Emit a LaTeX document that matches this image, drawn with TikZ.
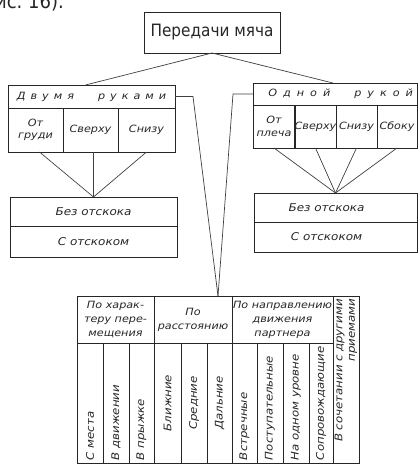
\documentclass[tikz,border=0pt]{standalone}
\usepackage{fontspec}
\setmainfont{DejaVu Sans}
\newfontfamily\gost{DejaVu Sans}[FakeStretch=1.12]
\newfontfamily\cond{DejaVu Sans Condensed}
\makeatletter
\newcommand\spreadout[2]{\@tfor\spr@c:=#2\do{\spr@c\kern#1}\unkern}
\makeatother
\begin{document}
\begin{tikzpicture}[x=1pt,y=-1pt,
  every node/.style={text=black!85},
  box/.style={draw=black!85, line width=1pt, inner sep=0pt, outer sep=0pt, align=center,
    font=\gost\itshape\fontsize{10}{12.5}\selectfont},
  bounce/.style={box, font=\gost\itshape\fontsize{10.7}{13}\selectfont},
  hdr/.style={box, font=\gost\itshape\fontsize{10}{14}\selectfont},
  vcol/.style={box, rotate=90, minimum width=120pt, text width=114pt, inner xsep=3pt, align=left,
    font=\gost\itshape\fontsize{10.5}{12.5}\selectfont},
  link/.style={draw=black!75, line width=0.7pt}]
\useasboundingbox (0,0) rectangle (419,466);

% cut-off text fragment at the top edge (as in the reference)
\node[anchor=base east, inner sep=0pt, font=\cond\fontsize{20}{22}\selectfont] (frag) at (64,8) {рис.~16).};

% title
\node[box, font=\cond\fontsize{17}{20}\selectfont, minimum width=136pt, minimum height=41pt] (title) at (212,32.5) {Передачи мяча};

% two hands
\node[box, minimum width=167pt, minimum height=23pt] (two) at (91.5,96.5) {\spreadout{5pt}{Двумя{\hspace{14pt}}руками}};
\node[box, minimum width=55pt, minimum height=44pt] (t1) at (35.5,130) {От\\груди};
\node[box, minimum width=55pt, minimum height=44pt] (t2) at (90.5,130) {Сверху};
\node[box, minimum width=57pt, minimum height=44pt] (t3) at (146.5,130) {Снизу};

% one hand
\node[box, text width=156pt, inner xsep=4pt, align=right, minimum height=22pt] (one) at (335,94) {\spreadout{6pt}{Одной{\hspace{12pt}}рукой}};
\node[box, minimum width=42pt, minimum height=43pt] (o1) at (274,126.5) {От\\плеча};
\node[box, minimum width=41pt, minimum height=43pt] (o2) at (315.5,126.5) {Сверху};
\node[box, minimum width=41pt, minimum height=43pt] (o3) at (356.5,126.5) {Снизу};
\node[box, minimum width=40pt, minimum height=43pt] (o4) at (397,126.5) {Сбоку};

% bounce boxes
\node[bounce, minimum width=167pt, minimum height=29pt] (bL1) at (93.5,211.5) {Без отскока};
\node[bounce, minimum width=167pt, minimum height=31pt] (bL2) at (93.5,241.5) {С отскоком};
\node[bounce, minimum width=163pt, minimum height=29pt] (bR1) at (335.5,207.5) {Без отскока\hspace{18pt}};
\node[bounce, minimum width=163pt, minimum height=30pt] (bR2) at (335.5,237) {С отскоком\hspace{18pt}};

% table header
\node[hdr, minimum width=77pt, minimum height=47pt] (g1) at (115.5,319.5) {По харак-\\теру пере-\\мещения};
\node[hdr, minimum width=78pt, minimum height=47pt] (g2) at (193,319.5) {По\\расстоянию};
\node[hdr, minimum width=101pt, minimum height=47pt] (g3) at (282.5,319.5) {По направлению\\движения\\партнера};
\node[vcol, minimum width=167pt, minimum height=26pt, text width=161pt, align=right] (g4) at (346,379.5) {В сочетании с другими\\приемами};

% table columns
\node[vcol, minimum height=26pt] (k1) at (90,403) {С места};
\node[vcol, minimum height=26pt] (k2) at (116,403) {В движении};
\node[vcol, minimum height=25pt] (k3) at (141.5,403) {В прыжке};
\node[vcol, minimum height=27pt, align=center] (k4) at (167.5,403) {Ближние};
\node[vcol, minimum height=26pt, align=center] (k5) at (194,403) {Средние};
\node[vcol, minimum height=25pt, align=center] (k6) at (219.5,403) {Дальние};
\node[vcol, minimum height=25pt] (k7) at (244.5,403) {Встречные};
\node[vcol, minimum height=26pt] (k8) at (270,403) {Поступательные};
\node[vcol, minimum height=26pt] (k9) at (296,403) {На одном уровне};
\node[vcol, minimum height=24pt] (k10) at (321,403) {Сопровождающие};

% connectors
\coordinate (meet) at (218,296);
\draw[link] (title.south) -- ([xshift=-6pt]two.north);
\draw[link] (title.south) -- ([xshift=-2pt]one.north);
\draw[link] (two.east) -- ++(18,0) -- (meet);
\draw[link] (one.west) -- ++(-20,0) -- (meet);
\draw[link] ([xshift=4pt]t1.south) -- (bL1.north);
\draw[link] (bL1.north |- t2.south) -- (bL1.north);
\draw[link] (t3.south) -- (bL1.north);
\draw[link] (o1.south) -- (bR1.north);
\draw[link] (o2.south) -- (bR1.north);
\draw[link] (o3.south) -- (bR1.north);
\draw[link] (o4.south) -- (bR1.north);
\end{tikzpicture}
\end{document}
